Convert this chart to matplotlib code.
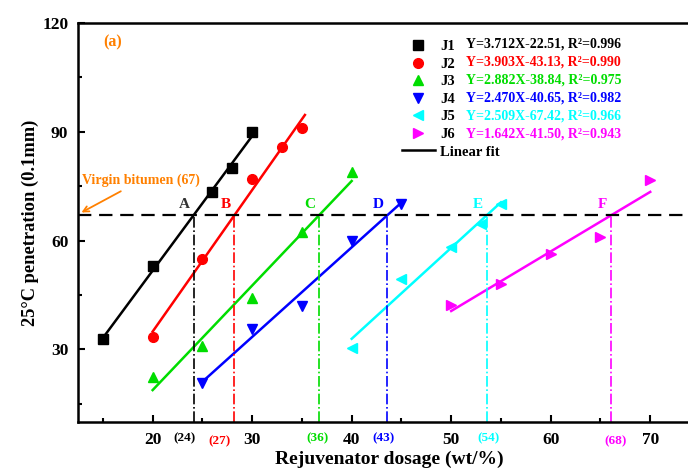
import matplotlib.pyplot as plt
import numpy as np

plt.rcParams['font.family'] = ['Liberation Serif', 'DejaVu Serif']
plt.rcParams['font.weight'] = 'bold'

# data
names = ['J1', 'J2', 'J3', 'J4', 'J5', 'J6']
colors = ['black', 'red', '#00dd00', 'blue', 'cyan', 'magenta']
markers = ['s', 'o', '^', 'v', '<', '>']
j1_x = [15, 20, 26, 28, 30]
j1_y = [33, 53, 73.5, 80, 90]
j2_x = [20, 25, 30, 33, 35]
j2_y = [33.5, 55, 77, 85.7, 91]
j3_x = [20, 25, 30, 35, 40]
j3_y = [22.3, 31, 44.3, 62.3, 78.8]
j4_x = [25, 30, 35, 40, 45]
j4_y = [20.7, 35.6, 42, 60, 70.2]
j5_x = [40, 45, 50, 53, 55]
j5_y = [30.4, 49.5, 58.3, 64.5, 70.2]
j6_x = [50, 55, 60, 65, 70]
j6_y = [42.3, 48, 56.3, 61.1, 76.8]
slopes = [3.712, 3.903, 2.882, 2.470, 2.509, 1.642]
intercepts = [-22.51, -43.13, -38.84, -40.65, -67.42, -41.50]
r2 = ['0.996', '0.990', '0.975', '0.982', '0.966', '0.943']
fit_ranges = [(14.8, 30.3), (20, 35.3), (20, 40), (25, 45), (40, 55), (50, 70)]
virgin = 67
point_names = ['A', 'B', 'C', 'D', 'E', 'F']
dosage_labels = ['(24)', '(27)', '(36)', '(43)', '(54)', '(68)']
label_pos = [23.2, 26.7, 36.6, 43.2, 53.7, 66.5]

xs = [j1_x, j2_x, j3_x, j4_x, j5_x, j6_x]
ys = [j1_y, j2_y, j3_y, j4_y, j5_y, j6_y]

fig = plt.figure(figsize=(6.88, 4.71), dpi=100)
ax = fig.add_axes([78/688, 49/471, 622/688, 399/471])

handles = []
for i in range(6):
    h, = ax.plot(xs[i], ys[i], linestyle='none', marker=markers[i], color=colors[i],
                 markersize=7, label=names[i])
    handles.append(h)
    x0, x1 = fit_ranges[i]
    xx = np.array([x0, x1])
    ax.plot(xx, slopes[i]*xx + intercepts[i], color=colors[i], lw=1.8)

fit_h, = ax.plot([], [], color='black', lw=1.8, label='Linear fit')
handles.append(fit_h)

# virgin bitumen line
ax.axhline(virgin, color='black', lw=1.6, dashes=(6, 3.5))

for i in range(6):
    xi = (virgin - intercepts[i]) / slopes[i]
    ax.plot([xi, xi], [10, virgin], color=colors[i], lw=1.2, linestyle='-.')
    ax.text(xi - 0.9, virgin + 1.2, point_names[i], color=colors[i] if i else '#333333',
            fontsize=11, ha='center', va='bottom', fontweight='bold')
    ax.text(label_pos[i], 4.7 if i in (1, 5) else 5.6, dosage_labels[i], color=colors[i],
            fontsize=9.5, ha='center', va='center', fontweight='bold')

ax.annotate('Virgin bitumen (67)', xy=(12.6, 67.4), xytext=(12.9, 76.6),
            color='#ff8000', fontsize=10, fontweight='bold', va='center',
            arrowprops=dict(arrowstyle='->', color='#ff8000', lw=1.3),
            )
ax.text(15.0, 113.5, '(a)', color='#ff8000', fontsize=11.5, fontweight='bold')

ax.set_xlim(12.5, 75)
ax.set_ylim(10, 120)
ax.set_xticks([20, 30, 40, 50, 60, 70])
ax.set_xticks([15, 25, 35, 45, 55, 65, 75], minor=True)
ax.set_yticks([30, 60, 90, 120])
ax.set_yticks([15, 45, 75, 105], minor=True)
ax.tick_params(which='both', direction='in', width=1.5)
ax.tick_params(which='major', length=5, labelsize=12.5, pad=7)
ax.tick_params(which='minor', length=3)
for lab in ax.get_xticklabels() + ax.get_yticklabels():
    lab.set_fontweight('bold')
for s in ax.spines.values():
    s.set_linewidth(1.8)

ax.set_xlabel('Rejuvenator dosage (wt/%)', fontsize=14, fontweight='bold', labelpad=2)
ax.set_ylabel('25°C penetration (0.1mm)', fontsize=13.3, fontweight='bold', labelpad=2)

leg = ax.legend(handles=handles, loc='upper left', bbox_to_anchor=(396/688, 437/471),
                bbox_transform=fig.transFigure, frameon=False, fontsize=10.5,
                handlelength=2.25, handletextpad=0.4, labelspacing=0.3, borderaxespad=0)

row_y = [44, 62, 80, 98, 116, 134]
for i in range(6):
    fig.text(466/688, 1 - row_y[i]/471,
             'Y=%.3fX%.2f, R²=%s' % (slopes[i], intercepts[i], r2[i]),
             color=colors[i], fontsize=10, fontweight='bold', va='center')

plt.savefig('out.png', dpi=100)
